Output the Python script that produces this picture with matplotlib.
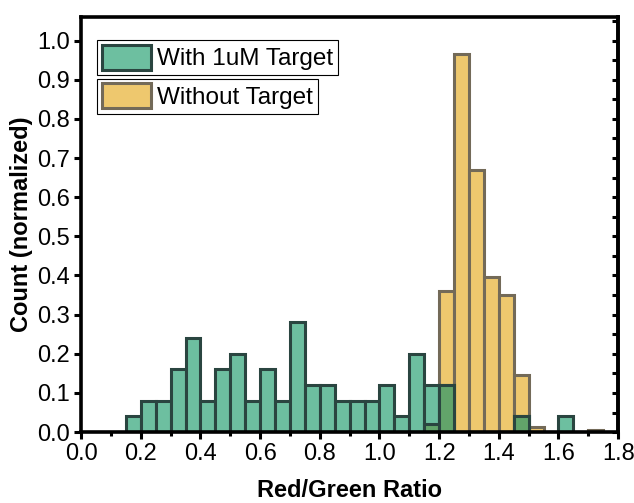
import numpy as np
import matplotlib
matplotlib.use('Agg')
import matplotlib.pyplot as plt
from matplotlib.patches import Patch
from matplotlib.ticker import MultipleLocator, FormatStrFormatter

plt.rcParams['font.family'] = ['Liberation Sans', 'DejaVu Sans']

# Bin left edges (width 0.05) and normalized counts
bin_left = [0.15, 0.20, 0.25, 0.30, 0.35, 0.40, 0.45, 0.50, 0.55, 0.60,
            0.65, 0.70, 0.75, 0.80, 0.85, 0.90, 0.95, 1.00, 1.05, 1.10,
            1.15, 1.20, 1.25, 1.30, 1.35, 1.40, 1.45, 1.50, 1.55, 1.60,
            1.65, 1.70]
with_target = [0.04, 0.08, 0.08, 0.16, 0.24, 0.08, 0.16, 0.20, 0.08, 0.16,
               0.08, 0.28, 0.12, 0.12, 0.08, 0.08, 0.08, 0.12, 0.04, 0.20,
               0.12, 0.12, 0.0, 0.0, 0.0, 0.0, 0.04, 0.0, 0.0, 0.04,
               0.0, 0.0]
without_target = [0.0, 0.0, 0.0, 0.0, 0.0, 0.0, 0.0, 0.0, 0.0, 0.0,
                  0.0, 0.0, 0.0, 0.0, 0.0, 0.0, 0.0, 0.0, 0.0, 0.0,
                  0.02, 0.36, 0.965, 0.67, 0.395, 0.35, 0.145, 0.012, 0.0, 0.0,
                  0.0, 0.005]
labels = ['With 1uM Target', 'Without Target']
bin_w = 0.05

green = '#6dbfa0'
green_edge = '#2a4540'
yellow = '#eec86e'
yellow_edge = '#736a58'
overlap = '#62a46a'

x = np.array(bin_left)
g = np.array(with_target)
y = np.array(without_target)
both = np.minimum(g, y)

fig = plt.figure(figsize=(6.34, 5.03), dpi=100)
ax = fig.add_axes([0.128, 0.141, 0.847, 0.825])

# yellow first, green on top, then the overlapping part in darker green
ax.bar(x, y, width=bin_w, align='edge', color=yellow, edgecolor=yellow_edge, linewidth=2.2)
ax.bar(x, g, width=bin_w, align='edge', color=green, edgecolor=green_edge, linewidth=2.2)
ax.bar(x, both, width=bin_w, align='edge', color=overlap, edgecolor=green_edge, linewidth=2.2)

ax.set_xlim(0, 1.8)
ax.set_ylim(0, 1.06)
ax.xaxis.set_major_locator(MultipleLocator(0.2))
ax.xaxis.set_minor_locator(MultipleLocator(0.1))
ax.yaxis.set_major_locator(MultipleLocator(0.1))
ax.xaxis.set_major_formatter(FormatStrFormatter('%.1f'))
ax.yaxis.set_major_formatter(FormatStrFormatter('%.1f'))

ax.tick_params(axis='both', which='major', direction='out', length=5, width=2.2,
               labelsize=17, pad=3)
ax.tick_params(axis='x', which='minor', direction='out', length=3, width=2.2)

# ticks on the right side, pointing in, no labels
sec = ax.secondary_yaxis('right')
sec.yaxis.set_major_locator(MultipleLocator(0.1))
sec.yaxis.set_minor_locator(MultipleLocator(0.05))
sec.tick_params(which='both', direction='in', length=4, width=2.2, labelright=False)
sec.spines['right'].set_linewidth(2.6)

for s in ax.spines.values():
    s.set_linewidth(2.6)

ax.set_xlabel('Red/Green Ratio', fontsize=17, fontweight='bold', labelpad=10)
ax.set_ylabel('Count (normalized)', fontsize=17, fontweight='bold', labelpad=3)

h1 = Patch(facecolor=green, edgecolor=green_edge, linewidth=2.2)
h2 = Patch(facecolor=yellow, edgecolor=yellow_edge, linewidth=2.2)
leg1 = ax.legend([h1], [labels[0]], loc='upper left', bbox_to_anchor=(0.03, 0.945),
                 fontsize=17.5, fancybox=False, edgecolor='black', framealpha=1,
                 borderpad=0.2, borderaxespad=0, handlelength=2.0, handleheight=1.2,
                 handletextpad=0.25)
leg1.get_frame().set_linewidth(0.8)
ax.add_artist(leg1)
leg2 = ax.legend([h2], [labels[1]], loc='upper left', bbox_to_anchor=(0.03, 0.852),
                 fontsize=17.5, fancybox=False, edgecolor='black', framealpha=1,
                 borderpad=0.2, borderaxespad=0, handlelength=2.0, handleheight=1.2,
                 handletextpad=0.25)
leg2.get_frame().set_linewidth(0.8)

fig.savefig('out.png', dpi=100)
